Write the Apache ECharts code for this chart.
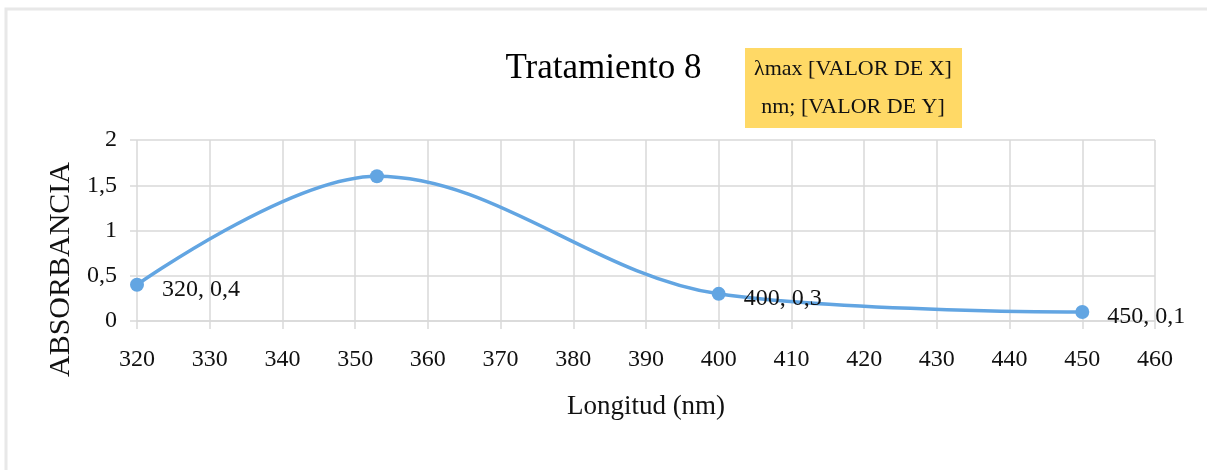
<!DOCTYPE html>
<html>
<head>
<meta charset="utf-8">
<script src="https://cdn.jsdelivr.net/npm/echarts@6/dist/echarts.min.js"></script>
<style>
html,body{margin:0;padding:0;background:#fff;}
#chart{width:1207px;height:470px;}
</style>
</head>
<body>
<div id="chart"></div>
<script>
const titleText = 'Tratamiento 8';
const boxText = 'λmax [VALOR DE X]\nnm; [VALOR DE Y]';
const xName = 'Longitud (nm)';
const yName = 'ABSORBANCIA';
const wavelengths = [320, 353, 400, 450];
const absorbance = [0.4, 1.6, 0.3, 0.1];
const labeled = [true, false, true, true];
const xMin = 320, xMax = 460, xStep = 10;
const yMin = 0, yMax = 2, yStep = 0.5;

const FONT = '"Liberation Serif", "Times New Roman", serif';
const fmt = v => String(v).replace('.', ',');
const seriesData = wavelengths.map((x, i) => ({
  value: [x, absorbance[i]],
  label: { show: labeled[i] }
}));

const chart = echarts.init(document.getElementById('chart'));
chart.setOption({
  animation: false,
  backgroundColor: '#fff',
  title: {
    text: titleText,
    left: 'center',
    top: 46,
    textStyle: { fontFamily: FONT, fontSize: 35, fontWeight: 'normal', color: '#000' }
  },
  graphic: [
    {
      type: 'rect', z: -10, silent: true,
      shape: { x: 6, y: 9, width: 1400, height: 700 },
      style: { fill: 'none', stroke: '#e8e8e8', lineWidth: 3 }
    },
    {
      type: 'rect', silent: true,
      shape: { x: 745, y: 48, width: 217, height: 80 },
      style: { fill: '#ffd966' }
    },
    {
      type: 'text', silent: true,
      x: 853, y: 88,
      style: {
        text: boxText, align: 'center', verticalAlign: 'middle',
        font: '22px ' + FONT, lineHeight: 38, fill: '#111'
      }
    }
  ],
  grid: { left: 137, right: 52, top: 140, bottom: 149 },
  xAxis: {
    type: 'value', min: xMin, max: xMax, interval: xStep,
    name: xName, nameLocation: 'middle', nameGap: 72,
    nameTextStyle: { fontFamily: FONT, fontSize: 27, color: '#111' },
    axisLine: { show: true, lineStyle: { color: '#d9d9d9', width: 1.5 } },
    axisTick: { show: true, length: 8, lineStyle: { color: '#d9d9d9', width: 1.5 } },
    splitLine: { show: true, lineStyle: { color: '#d9d9d9', width: 1.5 } },
    axisLabel: { fontFamily: FONT, fontSize: 24, color: '#111', margin: 27 }
  },
  yAxis: {
    type: 'value', min: yMin, max: yMax, interval: yStep,
    name: yName, nameLocation: 'middle', nameGap: 60,
    nameTextStyle: { fontFamily: FONT, fontSize: 30, color: '#111', padding: [0, 78, 0, 0] },
    axisLine: { show: false },
    axisTick: { show: true, length: 7, lineStyle: { color: '#d9d9d9', width: 1.5 } },
    splitLine: { show: true, lineStyle: { color: '#d9d9d9', width: 1.5 } },
    axisLabel: { fontFamily: FONT, fontSize: 24, color: '#111', margin: 20, formatter: v => fmt(v) }
  },
  series: [{
    type: 'line',
    smooth: 0.35,
    data: seriesData,
    symbol: 'circle',
    symbolSize: 14,
    lineStyle: { color: '#62a5e2', width: 3.5 },
    itemStyle: { color: '#62a5e2' },
    label: {
      position: 'right', distance: 18, offset: [0, 5],
      fontFamily: FONT, fontSize: 24, color: '#111',
      formatter: p => p.value[0] + ', ' + fmt(p.value[1])
    }
  }]
});
</script>
</body>
</html>
